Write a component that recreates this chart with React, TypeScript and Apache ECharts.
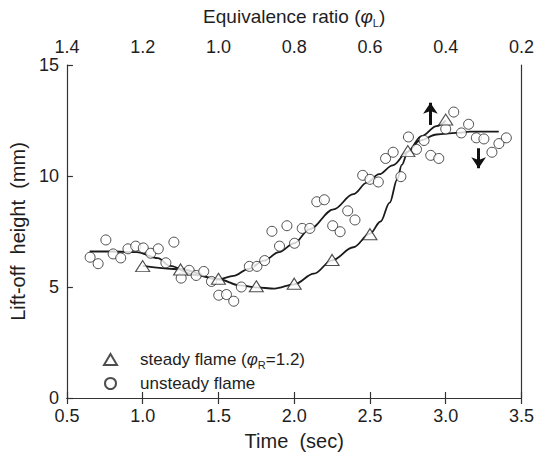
import React, { useEffect, useRef } from "react";
import * as echarts from "echarts";

// Unsteady flame (circles)
const unsteadyTime = [0.653, 0.706, 0.757, 0.805, 0.855, 0.903, 0.954, 1.004, 1.053, 1.103, 1.153, 1.206, 1.254, 1.307, 1.353, 1.403, 1.454, 1.502, 1.553, 1.601, 1.651, 1.704, 1.754, 1.805, 1.853, 1.903, 1.952, 2.002, 2.053, 2.103, 2.149, 2.199, 2.254, 2.303, 2.353, 2.401, 2.452, 2.5, 2.555, 2.603, 2.653, 2.704, 2.754, 2.807, 2.857, 2.901, 2.954, 3.0, 3.053, 3.103, 3.151, 3.202, 3.252, 3.305, 3.351, 3.4];
const unsteadyHeight = [6.34, 6.05, 7.12, 6.49, 6.31, 6.72, 6.84, 6.76, 6.52, 6.72, 6.09, 7.02, 5.4, 5.75, 5.52, 5.7, 5.25, 4.63, 4.66, 4.36, 5.0, 5.93, 5.93, 6.19, 7.51, 6.84, 7.76, 6.97, 7.64, 7.64, 8.84, 8.93, 7.76, 7.49, 8.43, 8.02, 10.03, 9.85, 9.73, 10.79, 11.07, 9.97, 11.76, 11.2, 11.6, 10.93, 10.79, 12.12, 12.88, 11.94, 12.33, 11.72, 11.67, 11.07, 11.46, 11.72];

// Steady flame (triangles)
const steadyTime = [1.0, 1.25, 1.5, 1.75, 2.0, 2.25, 2.5, 2.75, 3.0];
const steadyHeight = [5.94, 5.79, 5.37, 5.03, 5.15, 6.22, 7.38, 11.12, 12.54];

// Fit curves
const steadyFitTime = [1.0, 1.25, 1.5, 1.645, 1.75, 1.87, 2.0, 2.13, 2.25, 2.39, 2.5, 2.57, 2.63, 2.68, 2.71, 2.75, 2.84, 2.94, 3.0];
const steadyFitHeight = [5.95, 5.8, 5.35, 5.07, 4.98, 4.93, 5.12, 5.6, 6.2, 6.79, 7.4, 7.95, 8.8, 9.85, 10.5, 11.1, 11.8, 12.25, 12.5];
const unsteadyFitTime = [0.65, 0.8, 0.96, 1.1, 1.18, 1.34, 1.5, 1.6, 1.7, 1.8, 1.9, 2.0, 2.1, 2.26, 2.39, 2.48, 2.56, 2.65, 2.75, 2.83, 2.94, 3.07, 3.16, 3.35];
const unsteadyFitHeight = [6.6, 6.6, 6.57, 6.3, 5.95, 5.55, 5.35, 5.5, 5.82, 6.19, 6.57, 6.97, 7.6, 8.5, 9.18, 9.7, 10.08, 10.48, 11.1, 11.6, 11.87, 11.94, 12.0, 12.0];

// Arrows (start, end) in data coordinates
const arrowUp = [[2.899, 12.3], [2.899, 13.3]];
const arrowDown = [[3.217, 11.25], [3.217, 10.35]];

// Axis ticks
const timeTicks = { min: 0.5, max: 3.5, interval: 0.5 };
const phiTicks = { min: 0.2, max: 1.4, interval: 0.2 };
const heightTicks = { min: 0, max: 15, interval: 5 };

const zip = (a: number[], b: number[]) => a.map((v, i) => [v, b[i]]);

const FONT = "'Liberation Sans', Arial, Helvetica, sans-serif";
const TXT = "#1e1e1e";
const AX = "#333";

export default function App() {
  const ref = useRef<HTMLDivElement>(null);
  useEffect(() => {
    if (!ref.current) return;
    const chart = echarts.init(ref.current, null, { renderer: "svg" });
    const axisCommon = {
      axisLine: { show: true, lineStyle: { color: AX, width: 1.2 } },
      axisTick: { show: true, inside: true, length: 6, lineStyle: { color: AX, width: 1.2 } },
      splitLine: { show: false },
    };
    const option: any = {
      animation: false,
      backgroundColor: "#fff",
      textStyle: { fontFamily: FONT, color: TXT },
      grid: { left: 66, right: 15, top: 65, bottom: 56, containLabel: false },
      xAxis: [
        {
          type: "value",
          position: "bottom",
          ...timeTicks,
          ...axisCommon,
          axisLabel: { fontSize: 18, color: TXT, margin: 9, fontFamily: FONT, formatter: (v: number) => v.toFixed(1) },
          name: "Time  (sec)",
          nameLocation: "middle",
          nameGap: 33,
          nameTextStyle: { fontSize: 20, color: TXT, fontFamily: FONT },
        },
        {
          type: "value",
          position: "top",
          inverse: true,
          ...phiTicks,
          ...axisCommon,
          axisLabel: { fontSize: 18, color: TXT, margin: 9, fontFamily: FONT, formatter: (v: number) => v.toFixed(1) },
          name: "{t|Equivalence ratio (}{phi|φ}{sub|L}{t|)}",
          nameLocation: "middle",
          nameGap: 37,
          nameTextStyle: {
            fontFamily: FONT,
            rich: {
              t: { fontSize: 19, color: TXT, fontFamily: FONT, lineHeight: 23 },
              phi: { fontSize: 19, color: TXT, fontStyle: "italic", fontFamily: FONT, lineHeight: 23 },
              sub: { fontSize: 11, color: TXT, fontFamily: FONT, verticalAlign: "bottom", lineHeight: 12 },
            },
          },
        },
      ],
      yAxis: [
        {
          type: "value",
          position: "left",
          ...heightTicks,
          ...axisCommon,
          axisLabel: { fontSize: 18, color: TXT, margin: 8, fontFamily: FONT },
          name: "Lift-off  height  (mm)",
          nameLocation: "middle",
          nameGap: 36,
          nameTextStyle: { fontSize: 20, color: TXT, fontFamily: FONT },
        },
        {
          type: "value",
          position: "right",
          ...heightTicks,
          axisLine: { show: true, lineStyle: { color: AX, width: 1.2 } },
          axisTick: { show: false },
          axisLabel: { show: false },
          splitLine: { show: false },
        },
      ],
      legend: {
        orient: "vertical",
        left: 98,
        top: 346,
        itemWidth: 13,
        itemHeight: 11,
        itemGap: 5,
        data: ["steady", "unsteady"],
        formatter: (n: string) =>
          n === "steady"
            ? "{t|steady flame (}{phi|φ}{sub|R}{t|=1.2)}"
            : "{t|unsteady flame}",
        textStyle: {
          fontFamily: FONT,
          padding: [0, 0, 0, 18],
          rich: {
            t: { fontSize: 17, color: TXT, fontFamily: FONT, lineHeight: 21 },
            phi: { fontSize: 17, color: TXT, fontStyle: "italic", fontFamily: FONT, lineHeight: 21 },
            sub: { fontSize: 11, color: TXT, fontFamily: FONT, verticalAlign: "bottom", lineHeight: 12 },
          },
        },
      },
      series: [
        {
          type: "line",
          name: "steadyFit",
          data: zip(steadyFitTime, steadyFitHeight),
          smooth: 0.35,
          smoothMonotone: "x",
          showSymbol: false,
          symbol: "none",
          lineStyle: { color: "#1a1a1a", width: 1.8 },
          z: 2,
          silent: true,
        },
        {
          type: "line",
          name: "unsteadyFit",
          data: zip(unsteadyFitTime, unsteadyFitHeight),
          smooth: 0.35,
          smoothMonotone: "x",
          showSymbol: false,
          symbol: "none",
          lineStyle: { color: "#1a1a1a", width: 1.8 },
          z: 2,
          silent: true,
          markLine: {
            silent: true,
            symbol: ["none", "arrow"],
            symbolSize: 11,
            label: { show: false },
            itemStyle: { color: "#111" },
            lineStyle: { color: "#111", width: 3, type: "solid" },
            emphasis: { disabled: true },
            data: [
              [{ coord: arrowUp[0] }, { coord: arrowUp[1] }],
              [{ coord: arrowDown[0] }, { coord: arrowDown[1] }],
            ],
          },
        },
        {
          type: "scatter",
          name: "unsteady",
          data: zip(unsteadyTime, unsteadyHeight),
          symbol: "circle",
          symbolSize: 10,
          itemStyle: { color: "#fff", borderColor: "#222", borderWidth: 1 },
          z: 3,
        },
        {
          type: "scatter",
          name: "steady",
          data: zip(steadyTime, steadyHeight),
          symbol: "triangle",
          symbolSize: [14, 11],
          itemStyle: { color: "#fff", borderColor: "#222", borderWidth: 1.1 },
          z: 4,
        },
      ],
    };
    chart.setOption(option);
    return () => chart.dispose();
  }, []);
  return (
    <div
      ref={ref}
      style={{ position: "fixed", left: 0, top: 0, width: 537, height: 456, background: "#fff" }}
    />
  );
}
